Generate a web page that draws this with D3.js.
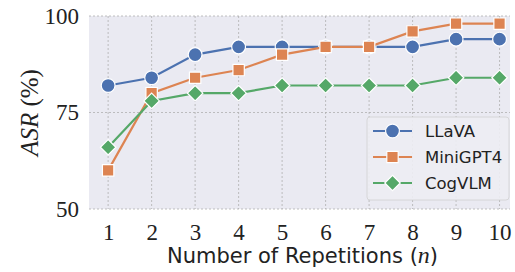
<!DOCTYPE html>
<html lang="en">
<head>
<meta charset="UTF-8">
<script src="https://d3js.org/d3.v7.min.js"></script>
<style>
  body { margin: 0; background: #fff; }
</style>
</head>
<body>
<svg id="chart" width="515" height="272"></svg>
<script>
    // data
    const repetitions = [1, 2, 3, 4, 5, 6, 7, 8, 9, 10];
    const llava = [82, 84, 90, 92, 92, 92, 92, 92, 94, 94];
    const minigpt4 = [60, 80, 84, 86, 90, 92, 92, 96, 98, 98];
    const cogvlm = [66, 78, 80, 80, 82, 82, 82, 82, 84, 84];
    const yTicks = [50, 75, 100];

    const series = [
        { name: "LLaVA", values: llava, color: "#4C72B0", marker: "circle" },
        { name: "MiniGPT4", values: minigpt4, color: "#DD8452", marker: "square" },
        { name: "CogVLM", values: cogvlm, color: "#55A868", marker: "diamond" }
    ];

    const svg = d3.select("#chart");
    const plot = { left: 89, right: 510, top: 16, bottom: 209 };

    const x = d3.scaleLinear().domain([0.56, 10.24]).range([plot.left, plot.right]);
    const y = d3.scaleLinear().domain([50, 100]).range([plot.bottom, plot.top]);

    svg.append("rect")
        .attr("x", plot.left).attr("y", plot.top)
        .attr("width", plot.right - plot.left).attr("height", plot.bottom - plot.top)
        .attr("fill", "#EAEAF2");

    // grid
    const grid = svg.append("g").attr("stroke", "#b0b0b0").attr("stroke-width", 0.8)
        .attr("stroke-dasharray", "2,2");
    grid.selectAll(".vx").data(repetitions).enter().append("line")
        .attr("x1", d => x(d)).attr("x2", d => x(d))
        .attr("y1", plot.top).attr("y2", plot.bottom);
    grid.selectAll(".hy").data(yTicks).enter().append("line")
        .attr("x1", plot.left).attr("x2", plot.right)
        .attr("y1", d => y(d)).attr("y2", d => y(d));

    // axes
    const xAxis = svg.append("g").attr("transform", `translate(0,${plot.bottom})`)
        .call(d3.axisBottom(x).tickValues(repetitions).tickSize(0).tickPadding(11));
    xAxis.select(".domain").remove();
    xAxis.selectAll("text").attr("font-family", "'Liberation Serif', serif")
        .attr("font-size", 23).attr("fill", "#222").attr("dy", "0.85em");

    const yAxis = svg.append("g").attr("transform", `translate(${plot.left},0)`)
        .call(d3.axisLeft(y).tickValues(yTicks).tickSize(0).tickPadding(10));
    yAxis.select(".domain").remove();
    yAxis.selectAll("text").attr("font-family", "'Liberation Serif', serif")
        .attr("font-size", 23).attr("fill", "#222");

    // axis labels
    const xl = svg.append("text")
        .attr("x", (plot.left + plot.right) / 2 + 3).attr("y", 263)
        .attr("text-anchor", "middle")
        .attr("font-family", "'DejaVu Sans', sans-serif").attr("font-size", 21).attr("fill", "#222");
    xl.append("tspan").text("Number of Repetitions (");
    xl.append("tspan").attr("font-family", "'Liberation Serif', serif").attr("font-style", "italic")
        .attr("font-size", 24).text("n");
    xl.append("tspan").text(")");

    const yl = svg.append("text")
        .attr("transform", `translate(38,${(plot.top + plot.bottom) / 2}) rotate(-90)`)
        .attr("text-anchor", "middle")
        .attr("font-family", "'Liberation Serif', serif").attr("font-size", 25).attr("fill", "#222");
    yl.append("tspan").attr("font-style", "italic").text("ASR");
    yl.append("tspan").text(" (%)");

    // matplotlib-like square diamond
    const diamond = { draw(ctx, size) { const r = Math.sqrt(size) / 2;
        ctx.moveTo(0, -r); ctx.lineTo(r, 0); ctx.lineTo(0, r); ctx.lineTo(-r, 0); ctx.closePath(); } };
    const symbolOf = m => m === "circle" ? d3.symbolCircle : m === "square" ? d3.symbolSquare : diamond;
    const sizeOf = m => m === "circle" ? 150 : m === "square" ? 130 : 240;

    const line = d3.line().x((d, i) => x(repetitions[i])).y(d => y(d));

    series.forEach(s => {
        const g = svg.append("g");
        g.append("path").datum(s.values)
            .attr("d", line).attr("fill", "none")
            .attr("stroke", s.color).attr("stroke-width", 2.2);
        g.selectAll("path.m").data(s.values).enter().append("path")
            .attr("class", "m")
            .attr("transform", (d, i) => `translate(${x(repetitions[i])},${y(d)})`)
            .attr("d", d3.symbol().type(symbolOf(s.marker)).size(sizeOf(s.marker)))
            .attr("fill", s.color).attr("stroke", "#fff").attr("stroke-width", 1.2);
    });

    // legend
    const lg = svg.append("g").attr("transform", "translate(367,117)");
    lg.append("rect").attr("width", 142).attr("height", 83).attr("rx", 3)
        .attr("fill", "#EDEDF3").attr("fill-opacity", 0.9)
        .attr("stroke", "#d0d0d0").attr("stroke-width", 0.8);
    series.forEach((s, i) => {
        const cy = 14 + i * 26;
        lg.append("line").attr("x1", 6).attr("x2", 45).attr("y1", cy).attr("y2", cy)
            .attr("stroke", s.color).attr("stroke-width", 2.2);
        lg.append("path")
            .attr("transform", `translate(25.5,${cy})`)
            .attr("d", d3.symbol().type(symbolOf(s.marker)).size(sizeOf(s.marker)))
            .attr("fill", s.color).attr("stroke", "#fff").attr("stroke-width", 1.2);
        lg.append("text").attr("x", 58).attr("y", cy).attr("dy", "0.36em")
            .attr("font-family", "'DejaVu Sans', sans-serif").attr("font-size", 16.5).attr("fill", "#222")
            .text(s.name);
    });
</script>
</body>
</html>
